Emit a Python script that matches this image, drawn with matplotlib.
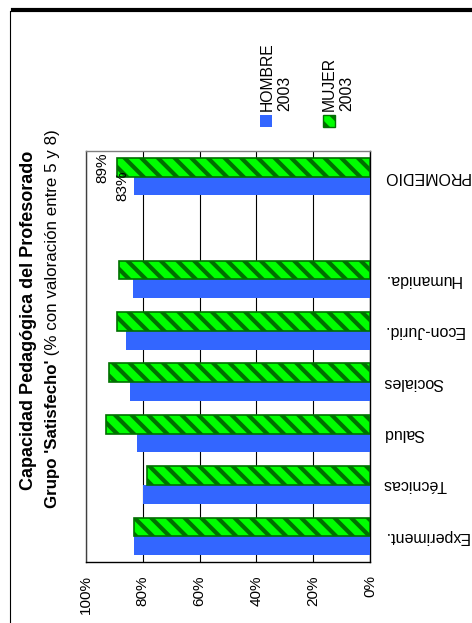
import matplotlib
matplotlib.use("Agg")
import matplotlib.pyplot as plt
from matplotlib.patches import Rectangle
from matplotlib.lines import Line2D

plt.rcParams['font.family'] = ['Liberation Sans', 'DejaVu Sans']
plt.rcParams['hatch.linewidth'] = 3.0

# datos (una plaza vacia entre Humanida. y PROMEDIO)
categorias = ['Experiment.', 'Técnicas', 'Salud', 'Sociales', 'Econ-Jurid.', 'Humanida.', '', 'PROMEDIO']
hombre = [83, 80, 82, 84.5, 86, 83.5, 83]
mujer = [83, 78.5, 93, 92, 89, 88.5, 89]
ticks = [0, 20, 40, 60, 80, 100]
tick_labels = ['0%', '20%', '40%', '60%', '80%', '100%']

AZUL = '#3366FF'
VERDE = '#00FF00'
VERDE_OSC = '#007000'

W, H = 472, 623


def fx(px):
    return px / W


def fy(py):
    return 1 - py / H


fig = plt.figure(figsize=(W / 100, H / 100), dpi=100)
ax = fig.add_axes([fx(86), fy(562), fx(370) - fx(86), fy(151) - fy(562)])

pos = [i for i, c in enumerate(categorias) if c]
h = 0.364
ax.barh([p - h / 2 for p in pos], hombre, height=h, color=AZUL, zorder=3)
ax.barh([p + h / 2 for p in pos], mujer, height=h, color=VERDE, edgecolor=VERDE_OSC,
        linewidth=1.2, hatch='\\\\', zorder=3)

ax.set_xlim(100, 0)
ax.set_ylim(-0.5, len(categorias) - 0.5)
ax.set_xticks(ticks)
ax.set_xticklabels(tick_labels, rotation=90, fontsize=11)
ax.set_yticks(range(len(categorias)))
ax.set_yticklabels(categorias, rotation=180, fontsize=11.5, va='center')
ax.yaxis.tick_right()
ax.tick_params(axis='x', length=0, pad=9.4)
ax.tick_params(axis='y', length=0, pad=9.4)
ax.grid(axis='x', color='black', linewidth=0.8)
ax.set_axisbelow(True)
ax.spines['top'].set_color('#808080')
ax.spines['left'].set_color('#404040')
ax.spines['bottom'].set_color('black')
ax.spines['right'].set_color('black')
for s in ax.spines.values():
    s.set_linewidth(1)

# etiquetas del promedio
ax.annotate('%d%%' % mujer[-1], xy=(mujer[-1], pos[-1] + h / 2), xytext=(-5.5, 0),
            textcoords='offset points', rotation=90, ha='right', va='center', fontsize=11)
ax.annotate('%d%%' % hombre[-1], xy=(hombre[-1], pos[-1] - h / 2), xytext=(-3.5, 0),
            textcoords='offset points', rotation=90, ha='right', va='center', fontsize=11)

# titulo
fig.text(fx(33), fy(490), 'Capacidad Pedagógica del Profesorado', rotation=90,
         rotation_mode='anchor', ha='left', va='baseline', fontsize=13, fontweight='bold')
t2 = fig.text(fx(57), fy(508), "Grupo 'Satisfecho'", rotation=90,
              rotation_mode='anchor', ha='left', va='baseline', fontsize=12.2, fontweight='bold')
fig.canvas.draw()
bb = t2.get_window_extent()
fig.text(fx(57), bb.y1 / H, ' (% con valoración entre 5 y 8)', rotation=90,
         rotation_mode='anchor', ha='left', va='baseline', fontsize=12.2)

# leyenda
fig.add_artist(Rectangle((fx(260), fy(127)), fx(12), 12 / H, transform=fig.transFigure,
                         facecolor=AZUL, edgecolor='none'))
fig.add_artist(Rectangle((fx(323), fy(127)), fx(12), 12 / H, transform=fig.transFigure,
                         facecolor=VERDE, edgecolor=VERDE_OSC, linewidth=1, hatch='\\\\'))
fig.text(fx(260), fy(111), 'HOMBRE\n2003', rotation=90, rotation_mode='anchor',
         ha='left', va='top', fontsize=11.3, linespacing=1.2)
fig.text(fx(322), fy(111), 'MUJER\n2003', rotation=90, rotation_mode='anchor',
         ha='left', va='top', fontsize=11.3, linespacing=1.2)

# marco
fig.add_artist(Line2D([fx(13), 1], [fy(10), fy(10)], color='black', linewidth=3))
fig.add_artist(Line2D([fx(9.5), fx(9.5)], [fy(11), 0], color='black', linewidth=0.8))

fig.savefig('out.png', dpi=100)
